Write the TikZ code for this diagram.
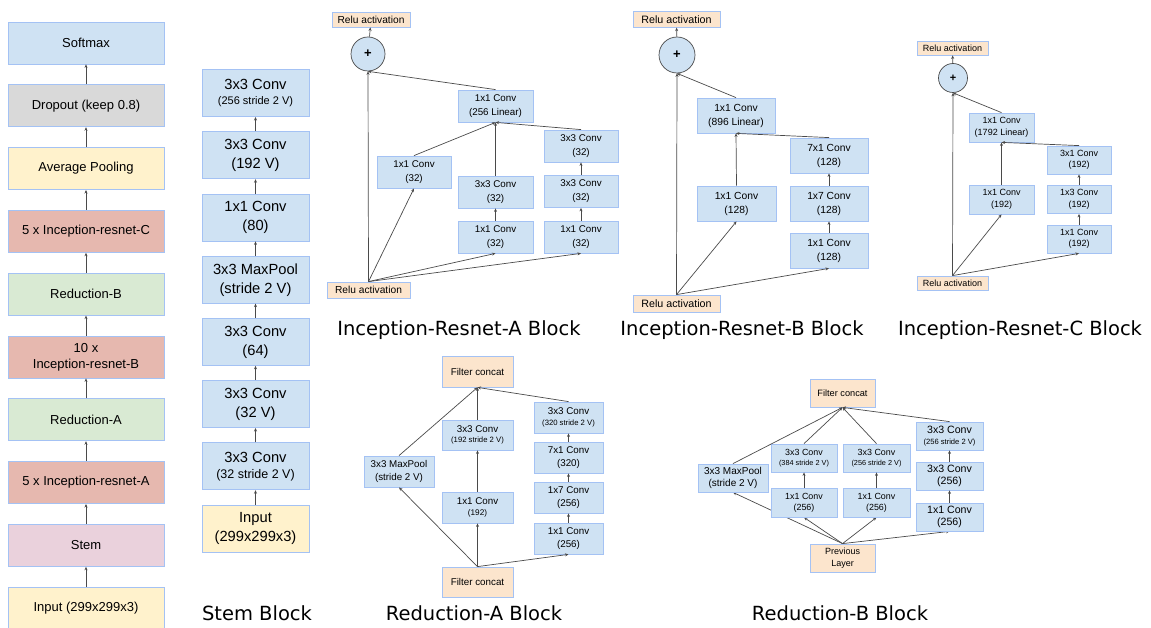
\documentclass[tikz,border=0pt]{standalone}
\usepackage{fontspec}
\setmainfont{Liberation Sans}
\newfontfamily\titlefont{DejaVu Sans}
\usepackage{tikz}
\usetikzlibrary{positioning, arrows.meta, backgrounds}
\definecolor{convblue}{HTML}{CFE2F3}
\definecolor{boxline}{HTML}{A4C2F4}
\definecolor{dropgray}{HTML}{D9D9D9}
\definecolor{poolyellow}{HTML}{FFF2CC}
\definecolor{resred}{HTML}{E6B8AF}
\definecolor{redgreen}{HTML}{D9EAD3}
\definecolor{stempink}{HTML}{EAD1DC}
\definecolor{reluorange}{HTML}{FCE5CD}
\definecolor{flowgray}{HTML}{4A4A4A}
\newcommand{\fsz}[2]{\fontsize{#1pt}{#2pt}\selectfont}

\begin{document}
\begin{tikzpicture}[x=1pt, y=-1pt,
    box/.style={draw=boxline, line width=0.8pt, fill=convblue, inner sep=0pt, align=center},
    relu/.style={box, fill=reluorange},
    flow/.style={draw=flowgray, line width=0.7pt, -{Stealth[length=3.5pt, width=3pt]}},
    addop/.style={circle, draw=flowgray, line width=0.7pt, fill=convblue, inner sep=0pt,
                  font=\fsz{13}{13}\bfseries},
    blocktitle/.style={font=\titlefont\fsz{19.5}{22}}
  ]
  \useasboundingbox (0,0) rectangle (1151,628);

  % Whole network, bottom to top
  \foreach \nm/\col/\txt [count=\i from 0] in {
      soft/convblue/Softmax,
      drop/dropgray/Dropout (keep 0.8),
      avg/poolyellow/Average Pooling,
      resC/resred/5 x Inception-resnet-C,
      redB/redgreen/Reduction-B,
      resB/resred/{10 x\\Inception-resnet-B},
      redA/redgreen/Reduction-A,
      resA/resred/5 x Inception-resnet-A,
      stem/stempink/Stem,
      input/poolyellow/Input (299x299x3)}
    \node[box, fill=\col, minimum width=156pt, minimum height=42pt, font=\fsz{13}{16}]
      (\nm) at (86, 43+62.8*\i) {\txt};
  \foreach \lo/\hi in {input/stem, stem/resA, resA/redA, redA/resB, resB/redB,
                       redB/resC, resC/avg, avg/drop, drop/soft}
    \draw[flow] (\lo) -- (\hi);

  % Stem block
  \foreach \nm/\col/\txt [count=\i from 0] in {
      st1/poolyellow/{Input\\(299x299x3)},
      st2/convblue/{3x3 Conv\\[-3pt]{\fsz{12.5}{14}(32 stride 2 V)}},
      st3/convblue/{3x3 Conv\\(32 V)},
      st4/convblue/{3x3 Conv\\(64)},
      st5/convblue/{3x3 MaxPool\\(stride 2 V)},
      st6/convblue/{1x1 Conv\\(80)},
      st7/convblue/{3x3 Conv\\(192 V)},
      st8/convblue/{3x3 Conv\\[-4pt]{\fsz{11}{13}(256 stride 2 V)}}}
    \node[box, fill=\col, minimum width=107pt, minimum height=47pt, font=\fsz{14.7}{19}]
      (\nm) at (255.5, 528.5-62.2*\i) {\txt};
  \foreach \lo/\hi in {st1/st2, st2/st3, st3/st4, st4/st5, st5/st6, st6/st7, st7/st8}
    \draw[flow] (\lo) -- (\hi);
  \node[blocktitle] (tstem) at (257, 613) {Stem Block};

  % Inception-Resnet-A
  \begin{scope}[every node/.append style={font=\fsz{9.8}{14}}]
    \node[relu, minimum width=78pt, minimum height=15pt, font=\fsz{10.2}{12}] (aout) at (371, 19.5) {Relu activation};
    \node[addop, minimum size=34pt] (aadd) at (368, 54) {+};
    \node[box, minimum width=75pt, minimum height=32pt] (alin) at (495.5, 106) {1x1 Conv\\(256 Linear)};
    \node[box, minimum width=74pt, minimum height=32pt] (ab1) at (414, 172) {1x1 Conv\\(32)};
    \node[box, minimum width=75pt, minimum height=32pt] (ab2b) at (495.5, 192) {3x3 Conv\\(32)};
    \node[box, minimum width=75pt, minimum height=32pt] (ab2a) at (495.5, 237) {1x1 Conv\\(32)};
    \node[box, minimum width=74pt, minimum height=32pt] (ab3c) at (581, 146) {3x3 Conv\\(32)};
    \node[box, minimum width=74pt, minimum height=32pt] (ab3b) at (581, 191.5) {3x3 Conv\\(32)};
    \node[box, minimum width=74pt, minimum height=32pt] (ab3a) at (581, 237) {1x1 Conv\\(32)};
    \node[relu, minimum width=83pt, minimum height=16pt, font=\fsz{10.2}{12}] (ain) at (368.5, 290) {Relu activation};
  \end{scope}
  \draw[flow] (ain.north) -- (aadd.south);
  \draw[flow] (ain.north) -- (ab1.south);
  \draw[flow] (ain.north) -- (ab2a.south);
  \draw[flow] (ain.north) -- (ab3a.south);
  \draw[flow] (ab2a) -- (ab2b);
  \draw[flow] (ab3a) -- (ab3b);
  \draw[flow] (ab3b) -- (ab3c);
  \draw[flow] (ab1.north) -- (alin.south);
  \draw[flow] (ab2b.north) -- (alin.south);
  \draw[flow] (ab3c.north) -- (alin.south);
  \draw[flow] (alin.north) -- (aadd.south);
  \draw[flow] (aadd) -- (aout);
  \node[blocktitle] (tresA) at (459, 330) {Inception-Resnet-A Block};

  % Inception-Resnet-B
  \begin{scope}[every node/.append style={font=\fsz{10.3}{14}}]
    \node[relu, minimum width=87pt, minimum height=15.5pt, font=\fsz{10.7}{12}] (bout) at (676.5, 19.5) {Relu activation};
    \node[addop, minimum size=36pt] (badd) at (677, 55) {+};
    \node[box, minimum width=78pt, minimum height=35pt] (blin) at (736, 115.5) {1x1 Conv\\(896 Linear)};
    \node[box, minimum width=79pt, minimum height=35pt] (bb1) at (736.5, 203.5) {1x1 Conv\\(128)};
    \node[box, minimum width=78pt, minimum height=35pt] (bb2c) at (829, 155.5) {7x1 Conv\\(128)};
    \node[box, minimum width=78pt, minimum height=35pt] (bb2b) at (829, 203.5) {1x7 Conv\\(128)};
    \node[box, minimum width=78pt, minimum height=35pt] (bb2a) at (829, 250.5) {1x1 Conv\\(128)};
    \node[relu, minimum width=87pt, minimum height=17pt, font=\fsz{10.7}{12}] (bin) at (676.5, 303.5) {Relu activation};
  \end{scope}
  \draw[flow] (bin.north) -- (badd.south);
  \draw[flow] (bin.north) -- (bb1.south);
  \draw[flow] (bin.north) -- (bb2a.south);
  \draw[flow] (bb2a) -- (bb2b);
  \draw[flow] (bb2b) -- (bb2c);
  \draw[flow] (bb1.north) -- (blin.south);
  \draw[flow] (bb2c.north) -- (blin.south);
  \draw[flow] (blin.north) -- (badd.south);
  \draw[flow] (badd) -- (bout);
  \node[blocktitle] (tresB) at (742, 330) {Inception-Resnet-B Block};

  % Inception-Resnet-C
  \begin{scope}[every node/.append style={font=\fsz{9}{11.5}}]
    \node[relu, minimum width=71pt, minimum height=14pt] (cout) at (952.5, 48) {Relu activation};
    \node[addop, minimum size=29pt, font=\fsz{11}{11}\bfseries] (cadd) at (953, 78) {+};
    \node[box, minimum width=65pt, minimum height=29pt] (clin) at (1001.5, 127.5) {1x1 Conv\\(1792 Linear)};
    \node[box, minimum width=65pt, minimum height=29pt] (cb1) at (1001.5, 199.5) {1x1 Conv\\(192)};
    \node[box, minimum width=64pt, minimum height=28pt] (cb2c) at (1079, 160) {3x1 Conv\\(192)};
    \node[box, minimum width=64pt, minimum height=28pt] (cb2b) at (1079, 199.5) {1x3 Conv\\(192)};
    \node[box, minimum width=64pt, minimum height=28pt] (cb2a) at (1079, 239) {1x1 Conv\\(192)};
    \node[relu, minimum width=71pt, minimum height=14pt] (cin) at (952.5, 283) {Relu activation};
  \end{scope}
  \draw[flow] (cin.north) -- (cadd.south);
  \draw[flow] (cin.north) -- (cb1.south);
  \draw[flow] (cin.north) -- (cb2a.south);
  \draw[flow] (cb2a) -- (cb2b);
  \draw[flow] (cb2b) -- (cb2c);
  \draw[flow] (cb1.north) -- (clin.south);
  \draw[flow] (cb2c.north) -- (clin.south);
  \draw[flow] (clin.north) -- (cadd.south);
  \draw[flow] (cadd) -- (cout);
  \node[blocktitle] (tresC) at (1020, 330) {Inception-Resnet-C Block};

  % Reduction-A
  \begin{scope}[every node/.append style={font=\fsz{9.8}{12.7}}]
    \node[relu, minimum width=71pt, minimum height=31pt] (raout) at (477.5, 371.5) {Filter concat};
    \node[box, minimum width=70pt, minimum height=31pt] (rapool) at (399, 471.5) {3x3 MaxPool\\(stride 2 V)};
    \node[box, minimum width=71pt, minimum height=30pt] (ra2b) at (477.5, 435) {3x3 Conv\\[-2pt]{\fsz{7.7}{9}(192 stride 2 V)}};
    \node[box, minimum width=71pt, minimum height=31pt] (ra2a) at (477.5, 507.5) {1x1 Conv\\[-2pt]{\fsz{8.2}{9}(192)}};
    \node[box, minimum width=69pt, minimum height=31pt] (ra3d) at (568.5, 417.5) {3x3 Conv\\[-2pt]{\fsz{7.7}{9}(320 stride 2 V)}};
    \node[box, minimum width=69pt, minimum height=31pt] (ra3c) at (568.5, 457.5) {7x1 Conv\\(320)};
    \node[box, minimum width=69pt, minimum height=31pt] (ra3b) at (568.5, 497.5) {1x7 Conv\\(256)};
    \node[box, minimum width=69pt, minimum height=31pt] (ra3a) at (568.5, 538.5) {1x1 Conv\\(256)};
    \node[relu, minimum width=71pt, minimum height=30pt] (rain) at (477.5, 582) {Filter concat};
  \end{scope}
  \draw[flow] (rain.north) -- (rapool.south);
  \draw[flow] (rain.north) -- (ra2a.south);
  \draw[flow] (rain.north) -- (ra3a.south);
  \draw[flow] (ra2a) -- (ra2b);
  \draw[flow] (ra3a) -- (ra3b);
  \draw[flow] (ra3b) -- (ra3c);
  \draw[flow] (ra3c) -- (ra3d);
  \draw[flow] (rapool.north) -- (raout.south);
  \draw[flow] (ra2b.north) -- (raout.south);
  \draw[flow] (ra3d.north) -- (raout.south);
  \node[blocktitle] (tredA) at (474, 613) {Reduction-A Block};

  % Reduction-B (small text in the two middle branches)
  \begin{scope}[every node/.append style={font=\fsz{10.6}{12.3}}]
    \node[relu, minimum width=65pt, minimum height=28pt, font=\fsz{9.2}{11}] (rbout) at (842.5, 393) {Filter concat};
    \node[box, minimum width=70pt, minimum height=28pt, font=\fsz{10}{12}] (rbpool) at (733, 478) {3x3 MaxPool\\(stride 2 V)};
    \node[box, minimum width=66pt, minimum height=28pt, font=\fsz{8.9}{11}] (rb2b) at (804, 458) {3x3 Conv\\[-1pt]{\fsz{7.3}{9}(384 stride 2 V)}};
    \node[box, minimum width=66pt, minimum height=29pt, font=\fsz{8.9}{11}] (rb2a) at (804, 502.5) {1x1 Conv\\(256)};
    \node[box, minimum width=67pt, minimum height=28pt, font=\fsz{8.9}{11}] (rb3b) at (876.5, 458) {3x3 Conv\\[-1pt]{\fsz{7.3}{9}(256 stride 2 V)}};
    \node[box, minimum width=67pt, minimum height=29pt, font=\fsz{8.9}{11}] (rb3a) at (876.5, 502.5) {1x1 Conv\\(256)};
    \node[box, minimum width=67pt, minimum height=28pt] (rb4c) at (949.5, 436) {3x3 Conv\\[-2pt]{\fsz{7.6}{9}(256 stride 2 V)}};
    \node[box, minimum width=67pt, minimum height=28pt] (rb4b) at (949.5, 476) {3x3 Conv\\(256)};
    \node[box, minimum width=67pt, minimum height=28pt] (rb4a) at (949.5, 517) {1x1 Conv\\(256)};
    \node[relu, minimum width=65pt, minimum height=28pt, font=\fsz{9}{11.5}] (rbin) at (842.5, 558) {Previous\\Layer};
  \end{scope}
  \begin{scope}[on background layer]
    \draw[flow] (rbin.north) -- (rbpool.south);
    \draw[flow] (rbin.north) -- (rb2a.south);
    \draw[flow] (rbin.north) -- (rb3a.south);
    \draw[flow] (rbin.north) -- (rb4a.south);
  \end{scope}
  \draw[flow] (rb2a) -- (rb2b);
  \draw[flow] (rb3a) -- (rb3b);
  \draw[flow] (rb4a) -- (rb4b);
  \draw[flow] (rb4b) -- (rb4c);
  \draw[flow] (rbpool.north) -- (rbout.south);
  \draw[flow] (rb2b.north) -- (rbout.south);
  \draw[flow] (rb3b.north) -- (rbout.south);
  \draw[flow] (rb4c.north) -- (rbout.south);
  \node[blocktitle] (tredB) at (840, 613) {Reduction-B Block};
\end{tikzpicture}
\end{document}
